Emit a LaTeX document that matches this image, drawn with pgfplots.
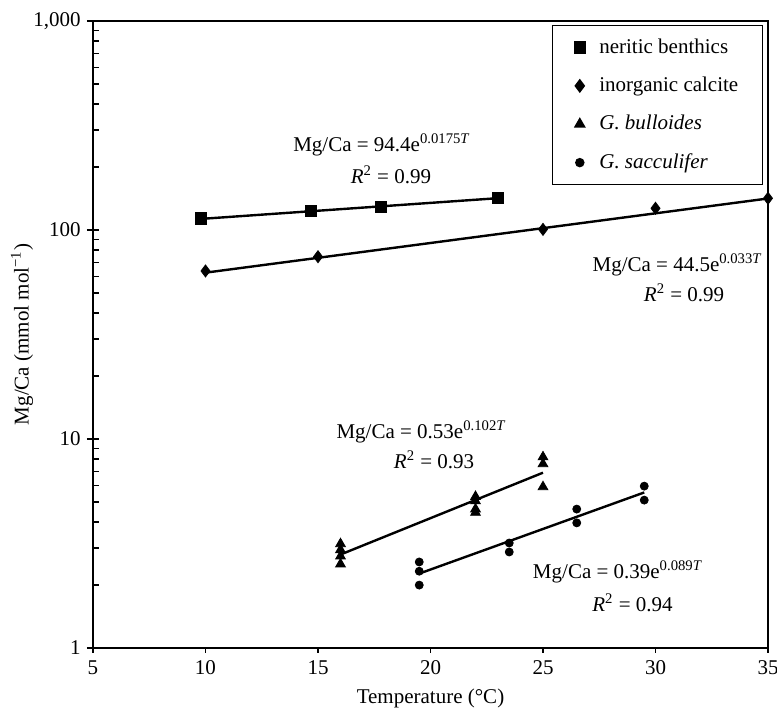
\documentclass[border=0pt]{standalone}
\usepackage{fontspec}
\setmainfont{Liberation Serif}
\usepackage{pgfplots}
\pgfplotsset{compat=1.18}
\begin{document}
\fontsize{10.5}{12.6}\selectfont
\begin{tikzpicture}
\begin{axis}[
  at={(0pt,0pt)}, anchor=south west,
  scale only axis, width=337.5pt, height=313.5pt,
  xmin=5, xmax=35,
  ymode=log, log basis y=10, ymin=1, ymax=1000,
  axis line style={line width=1pt},
  tick pos=left,
  tick align=inside,
  major tick length=3pt, minor tick length=2.8pt,
  every tick/.style={black, line width=0.8pt},
  xtick=\empty,
  extra x ticks={5,10,15,20,25,30,35},
  extra x tick labels={5,10,15,20,25,30,35},
  extra x tick style={tick align=outside, major tick length=2.5pt},
  ytick={1,10,100,1000},
  yticklabels={1,10,100,{1,000}},
  minor ytick={2,3,4,5,6,7,8,9,20,30,40,50,60,70,80,90,200,300,400,500,600,700,800,900},
  extra y ticks={1,10,100,1000},
  extra y tick labels={},
  extra y tick style={tick align=outside},
  yticklabel style={xshift=-2.5pt},
  /pgf/number format/assume math mode=true,
  xlabel={Temperature (°C)},
  ylabel={Mg/Ca (mmol mol\textsuperscript{−1})},
  xlabel style={at={(axis description cs:0.5,-0.08)}, anchor=center},
  ylabel style={at={(axis description cs:-0.105,0.5)}, anchor=center},
  legend style={
    at={(rel axis cs:1,1)}, anchor=north east, xshift=-2.5pt, yshift=-2pt,
    draw=black, line width=0.7pt, fill=white,
    inner xsep=10pt, inner ysep=4.5pt,
    row sep=6.3pt, column sep=4pt,
    cells={anchor=west},
  },
  legend cell align=left,
  legend image code/.code={\path (0cm,0cm) (0.24cm,0cm); \draw[#1] plot coordinates {(0.12cm,0cm)};},
]
% neritic benthics
\addplot[only marks, mark=square*, mark size=2.8pt, black] coordinates {
  (9.8,113.7) (14.7,123.3) (17.8,129.2) (23.0,142.8)};
\addlegendentry{neritic benthics}
% inorganic calcite
\addplot[only marks, mark=diamond*, mark size=3pt, black] coordinates {
  (10,63.7) (15,74.5) (25,100.7) (30,127) (35,141.8)};
\addlegendentry{inorganic calcite}
% G. bulloides
\addplot[only marks, mark=triangle*, mark size=2.8pt, black] coordinates {
  (16,3.15) (16,2.95) (16,2.75) (16,2.52)
  (22,5.3) (22,5.05) (22,4.62) (22,4.45)
  (25,8.2) (25,7.6) (25,5.9)};
\addlegendentry{\textit{G. bulloides}}
% G. sacculifer
\addplot[only marks, mark=*, mark size=2pt, black] coordinates {
  (19.5,2.58) (19.5,2.33) (19.5,2.0)
  (23.5,3.18) (23.5,2.88)
  (26.5,4.62) (26.5,3.97)
  (29.5,5.95) (29.5,5.1)};
\addlegendentry{\textit{G. sacculifer}}
% fit lines
\addplot[black, line width=1.2pt, forget plot] coordinates {(9.8,113) (23.0,142)};
\addplot[black, line width=1.2pt, forget plot] coordinates {(10,62.5) (35,141.5)};
\addplot[black, line width=1.2pt, forget plot] coordinates {(16,2.8) (25,6.9)};
\addplot[black, line width=1.2pt, forget plot] coordinates {(19.5,2.27) (29.5,5.55)};
% annotations
\node at (axis cs:17.84,255) {Mg/Ca = 94.4e\textsuperscript{0.0175\textit{T}}};
\node at (axis cs:18.24,183) {\textit{R}\textsuperscript{2} = 0.99};
\node at (axis cs:30.98,68) {Mg/Ca = 44.5e\textsuperscript{0.033\textit{T}}};
\node at (axis cs:31.27,50.1) {\textit{R}\textsuperscript{2} = 0.99};
\node at (axis cs:19.6,10.8) {Mg/Ca = 0.53e\textsuperscript{0.102\textit{T}}};
\node at (axis cs:20.16,7.93) {\textit{R}\textsuperscript{2} = 0.93};
\node at (axis cs:28.33,2.32) {Mg/Ca = 0.39e\textsuperscript{0.089\textit{T}}};
\node at (axis cs:28.98,1.64) {\textit{R}\textsuperscript{2} = 0.94};
\end{axis}
\pgfresetboundingbox
\path[use as bounding box] (-46.5pt,-32pt) rectangle (342pt,324pt);
\end{tikzpicture}
\end{document}
